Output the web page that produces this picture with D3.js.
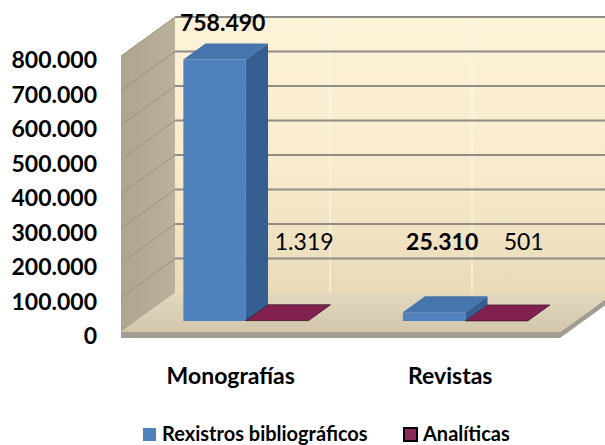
<!DOCTYPE html>
<html>
<head>
<meta charset="utf-8">
<script src="https://cdn.jsdelivr.net/npm/d3@7"></script>
<style>
  body { margin: 0; background: #fff; }
  svg { display: block; font-family: Lato, "Open Sans", sans-serif; }
</style>
</head>
<body>
<div id="chart-container"></div>
<script>
// data
let categories = ["Monografías", "Revistas"];
let seriesNames = ["Rexistros bibliográficos", "Analíticas"];
let rexistros = [758490, 25310];
let analiticas = [1319, 501];
let valueLabels = [["758.490", "25.310"], ["1.319", "501"]];
let yTicks = [0, 100000, 200000, 300000, 400000, 500000, 600000, 700000, 800000];
let yTickLabels = ["0", "100.000", "200.000", "300.000", "400.000", "500.000", "600.000", "700.000", "800.000"];

let width = 605;
let height = 445;

// oblique depth of the 3d box (front plane -> back wall)
let DX = 54;
let DY = -39;
let zFront = 0.28;
let zBack = 0.69;

let left = 121;
let right = 560;

var svg = d3
  .select("#chart-container")
  .append("svg")
  .attr("width", width)
  .attr("height", height);

var defs = svg.append("defs");
var wallGrad = defs.append("linearGradient").attr("id", "wall").attr("x1", 0).attr("y1", 0).attr("x2", 0).attr("y2", 1);
wallGrad.append("stop").attr("offset", "0%").attr("stop-color", "#fef2d8");
wallGrad.append("stop").attr("offset", "55%").attr("stop-color", "#f8ebcd");
wallGrad.append("stop").attr("offset", "100%").attr("stop-color", "#e9dbb8");
var sideGrad = defs.append("linearGradient").attr("id", "side").attr("x1", 0).attr("y1", 0).attr("x2", 1).attr("y2", 0);
sideGrad.append("stop").attr("offset", "0%").attr("stop-color", "#aea590");
sideGrad.append("stop").attr("offset", "100%").attr("stop-color", "#bab19b");
var floorGrad = defs.append("linearGradient").attr("id", "floor").attr("x1", 0).attr("y1", 0).attr("x2", 0).attr("y2", 1);
floorGrad.append("stop").attr("offset", "0%").attr("stop-color", "#e2d8bd");
floorGrad.append("stop").attr("offset", "100%").attr("stop-color", "#d2c7ac");

let yScale = d3.scaleLinear().domain([0, 800000]).range([332, 56]);
let xScale = d3.scaleBand().domain(categories).range([left, right]).padding(0);
let xSub = d3.scaleBand().domain(seriesNames).range([0, xScale.bandwidth()]).paddingInner(0).paddingOuter(0.756);

let P = (x, v, z) => [x + z * DX, yScale(v) + z * DY];
let poly = (pts) => pts.map((p) => p.join(",")).join(" ");

let y0 = yScale(0);
let yTop = yScale(800000);

// back wall
svg.append("rect")
  .attr("x", left + DX).attr("y", yTop + DY)
  .attr("width", width - left - DX).attr("height", y0 - yTop)
  .attr("fill", "url(#wall)");

// faint vertical lines on the back wall
[330, 472].forEach((x) => {
  svg.append("line").attr("x1", x).attr("x2", x)
    .attr("y1", yTop + DY).attr("y2", y0 + DY)
    .attr("stroke", "#fffaf0").attr("stroke-width", 2).attr("opacity", 0.5);
});

// side wall
svg.append("polygon")
  .attr("points", poly([P(left, 0, 0), P(left, 800000, 0), P(left, 800000, 1), P(left, 0, 1)]))
  .attr("fill", "url(#side)");

// gridlines
yTicks.forEach((v) => {
  if (v === 0) return;
  svg.append("line")
    .attr("x1", left + DX).attr("x2", width)
    .attr("y1", yScale(v) + DY).attr("y2", yScale(v) + DY)
    .attr("stroke", "#8f8c86").attr("stroke-width", 2);
  svg.append("line")
    .attr("x1", left).attr("y1", yScale(v))
    .attr("x2", left + DX).attr("y2", yScale(v) + DY)
    .attr("stroke", "#9c937f").attr("stroke-width", 1);
});

// floor slab
svg.append("polygon")
  .attr("points", poly([[left, y0], [right, y0], [right + DX, y0 + DY], [right + DX, y0 + DY + 6], [right, y0 + 6], [left, y0 + 6]]))
  .attr("fill", "#a29d92");
svg.append("polygon")
  .attr("points", poly([P(left, 0, 0), P(right, 0, 0), P(right, 0, 1), P(left, 0, 1)]))
  .attr("fill", "url(#floor)");

// bars
let series = [
  { name: seriesNames[0], values: rexistros, front: "#4f81bd", side: "#355f92", top: "#4674ad", bold: true },
  { name: seriesNames[1], values: analiticas, front: "#7a1c4b", side: "#5e1238", top: "#82204f", bold: false },
];

categories.forEach((cat, i) => {
  series.forEach((s, j) => {
    let v = s.values[i];
    let x0 = xScale(cat) + xSub(s.name);
    let x1 = x0 + xSub.bandwidth();
    let g = svg.append("g");
    g.append("polygon")
      .attr("points", poly([P(x1, v, zFront), P(x1, v, zBack), P(x1, 0, zBack), P(x1, 0, zFront)]))
      .attr("fill", s.side);
    g.append("polygon")
      .attr("points", poly([P(x0, v, zFront), P(x1, v, zFront), P(x1, 0, zFront), P(x0, 0, zFront)]))
      .attr("fill", s.front);
    g.append("polygon")
      .attr("points", poly([P(x0, v, zFront), P(x1, v, zFront), P(x1, v, zBack), P(x0, v, zBack)]))
      .attr("fill", s.top)
      .attr("stroke", j === 1 ? "#2a0a1a" : "none")
      .attr("stroke-width", 0.6);
  });
});

// value labels
categories.forEach((cat, i) => {
  series.forEach((s, j) => {
    let v = s.values[i];
    let x0 = xScale(cat) + xSub(s.name);
    let zm = (zFront + zBack) / 2;
    let top = P(x0 + xSub.bandwidth() / 2, v, zm);
    svg.append("text")
      .attr("x", top[0] + (j === 1 ? 16 : -3))
      .attr("y", Math.min(top[1] - 20, 250))
      .attr("text-anchor", "middle")
      .style("font-size", "23px")
      .style("font-weight", s.bold ? "bold" : "normal")
      .style("fill", "#000")
      .text(valueLabels[j][i]);
  });
});

// y axis labels
svg.append("g")
  .selectAll("text")
  .data(yTicks)
  .enter()
  .append("text")
  .attr("x", 97)
  .attr("y", (d) => yScale(d) + 4)
  .attr("dy", "0.35em")
  .attr("text-anchor", "end")
  .style("font-size", "23px")
  .style("font-weight", "bold")
  .text((d, i) => yTickLabels[i]);

// category labels
svg.append("g")
  .selectAll("text")
  .data(categories)
  .enter()
  .append("text")
  .attr("x", (d) => xScale(d) + xScale.bandwidth() / 2)
  .attr("y", 384)
  .attr("text-anchor", "middle")
  .style("font-size", "23px")
  .style("font-weight", "bold")
  .text((d) => d);

// legend
let legendX = [143, 404];
let legend = svg.append("g");
series.forEach((s, j) => {
  legend.append("rect")
    .attr("x", legendX[j]).attr("y", 428)
    .attr("width", 13).attr("height", 13)
    .attr("fill", j === 0 ? "#4f81bd" : "#8b2a5d")
    .attr("stroke", j === 0 ? "none" : "#000")
    .attr("stroke-width", 2);
  legend.append("text")
    .attr("x", legendX[j] + 19).attr("y", 441)
    .style("font-size", "20px")
    .style("font-weight", "bold")
    .text(s.name);
});
</script>
</body>
</html>
